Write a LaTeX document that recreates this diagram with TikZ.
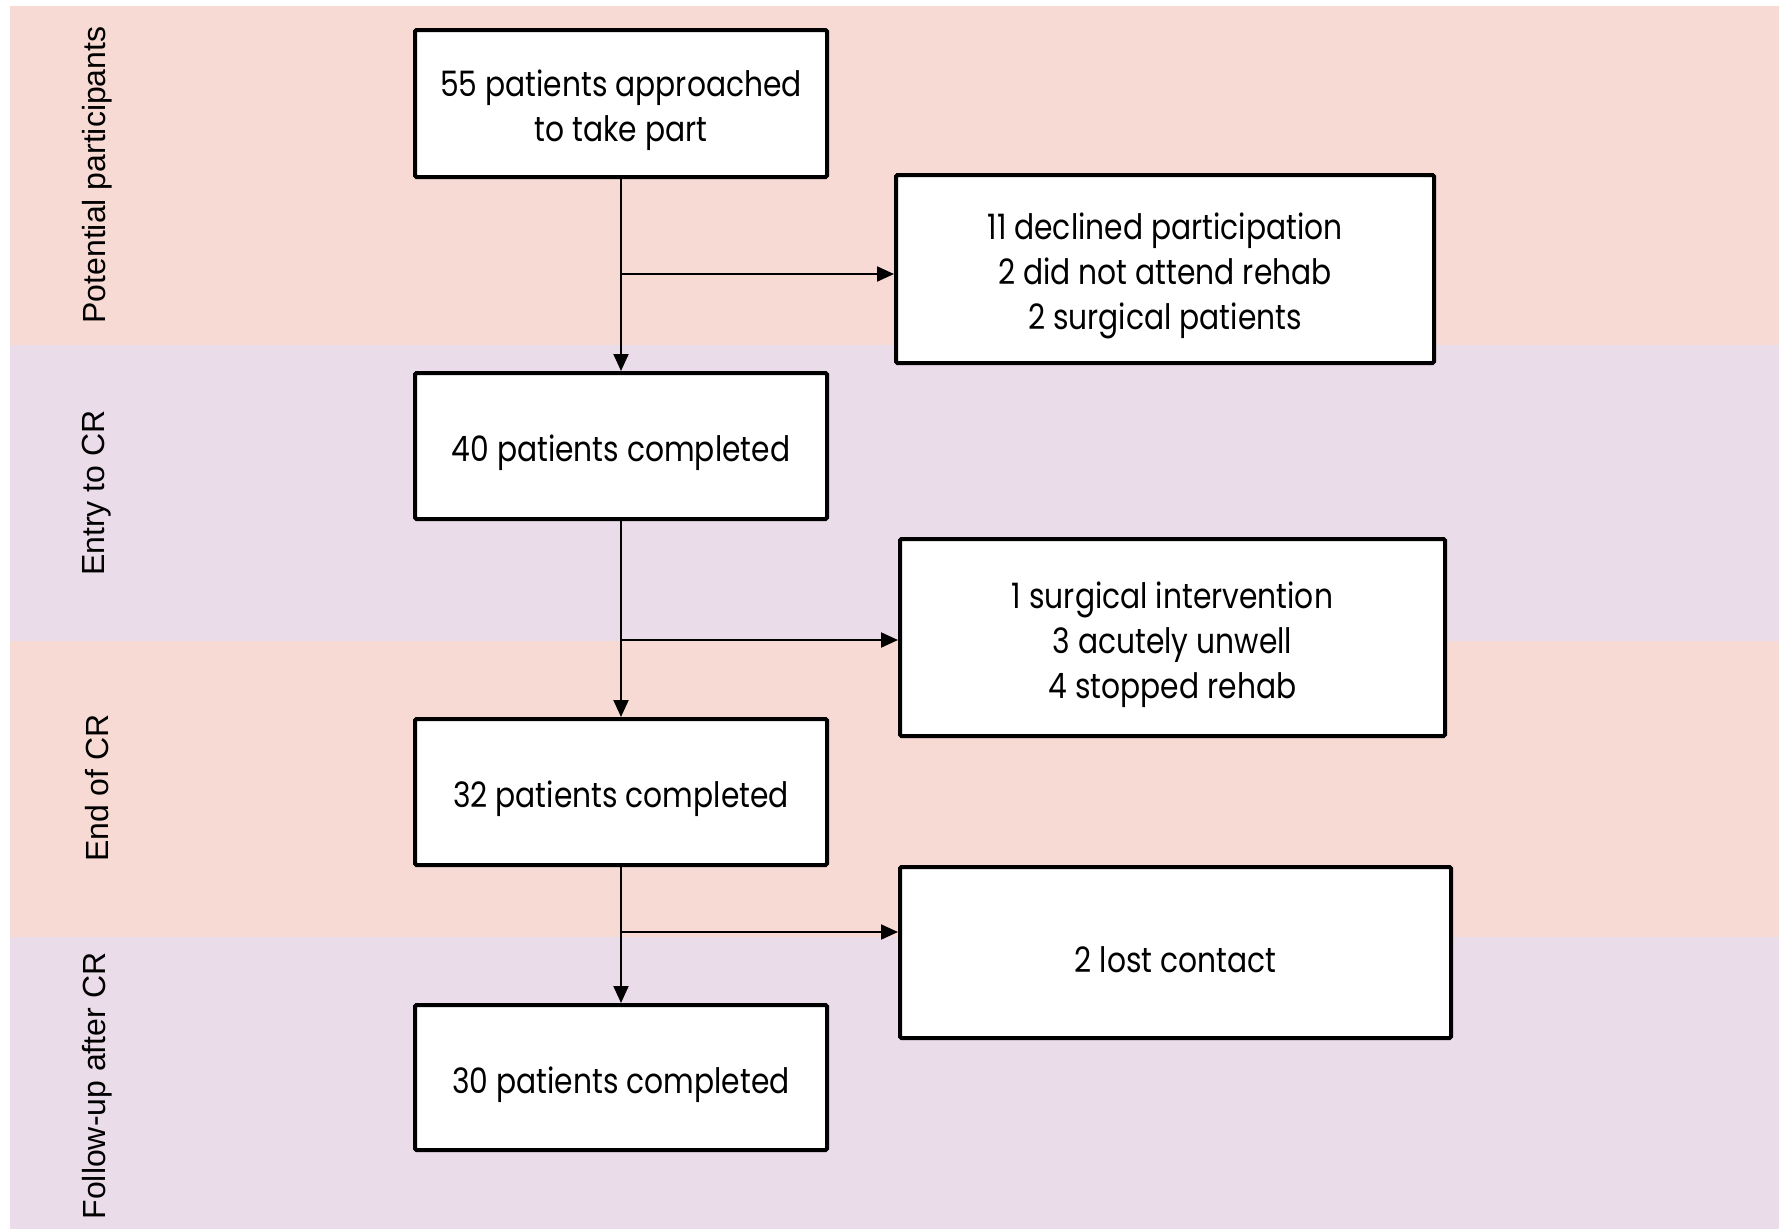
\documentclass[tikz,border=0pt]{standalone}
\usepackage{fontspec}
\usetikzlibrary{arrows.meta}
\newfontfamily\boxfont[FakeStretch=0.85]{Poppins}
\newfontfamily\lblfont{Liberation Sans}
\definecolor{bandpink}{RGB}{248,218,213}
\definecolor{bandlav}{RGB}{235,220,234}
\tikzset{
  flowbox/.style={draw=black, line width=4pt, fill=white, rounded corners=1.5pt,
    minimum width=412pt, minimum height=146pt, inner sep=0pt},
  boxtext/.style={inner sep=0pt, align=center, yshift=-7pt,
    font=\boxfont\fontsize{35}{45}\selectfont},
  arr/.style={line width=2pt, -{Triangle[length=17pt,width=15pt]}},
  bandlabel/.style={rotate=90, font=\lblfont\fontsize{32}{38}\selectfont, inner sep=0pt}
}
\begin{document}
\begin{tikzpicture}[x=1pt,y=-1pt]
\useasboundingbox (0,0) rectangle (1785,1229);
\fill[white] (0,0) rectangle (1785,1229);
% bands
\fill[bandpink] (10,6) rectangle (1779,345);
\fill[bandlav] (10,345) rectangle (1779,641);
\fill[bandpink] (10,641) rectangle (1779,937);
\fill[bandlav] (10,937) rectangle (1779,1229);
% band labels
\node[bandlabel] (l1) at (97,175) {Potential participants};
\node[bandlabel] (l2) at (97,493) {Entry to CR};
\node[bandlabel] (l3) at (97,788) {End of CR};
\node[bandlabel] (l4) at (97,1086) {Follow-up after CR};
% boxes
\node[flowbox, minimum height=147pt,
  label={[boxtext]center:55 patients approached\\to take part}] (b1) at (621,103.5) {};
\node[flowbox, minimum width=538pt, minimum height=188pt,
  label={[boxtext]center:11 declined participation\\2 did not attend rehab\\2 surgical patients}] (b2) at (1165,269) {};
\node[flowbox, label={[boxtext]center:40 patients completed}] (b3) at (621,446) {};
\node[flowbox, minimum width=545pt, minimum height=197pt,
  label={[boxtext]center:1 surgical intervention\\3 acutely unwell\\4 stopped rehab}] (b4) at (1172.5,637.5) {};
\node[flowbox, label={[boxtext]center:32 patients completed}] (b5) at (621,792) {};
\node[flowbox, minimum width=551pt, minimum height=171pt,
  label={[boxtext]center:2 lost contact}] (b6) at (1175.5,952.5) {};
\node[flowbox, minimum height=145pt, label={[boxtext]center:30 patients completed}] (b7) at (621,1077.5) {};
% connectors
\draw[arr] (b1.south) -- (b3.north);
\draw[arr] (b3.south) -- (b5.north);
\draw[arr] (b5.south) -- (b7.north);
\coordinate (j1) at (620.5,274);
\coordinate (j2) at (620.5,640);
\coordinate (j3) at (621,932);
\draw[arr] (j1) -- (j1 -| b2.west);
\draw[arr] (j2) -- (j2 -| b4.west);
\draw[arr] (j3) -- (j3 -| b6.west);
\end{tikzpicture}
\end{document}
